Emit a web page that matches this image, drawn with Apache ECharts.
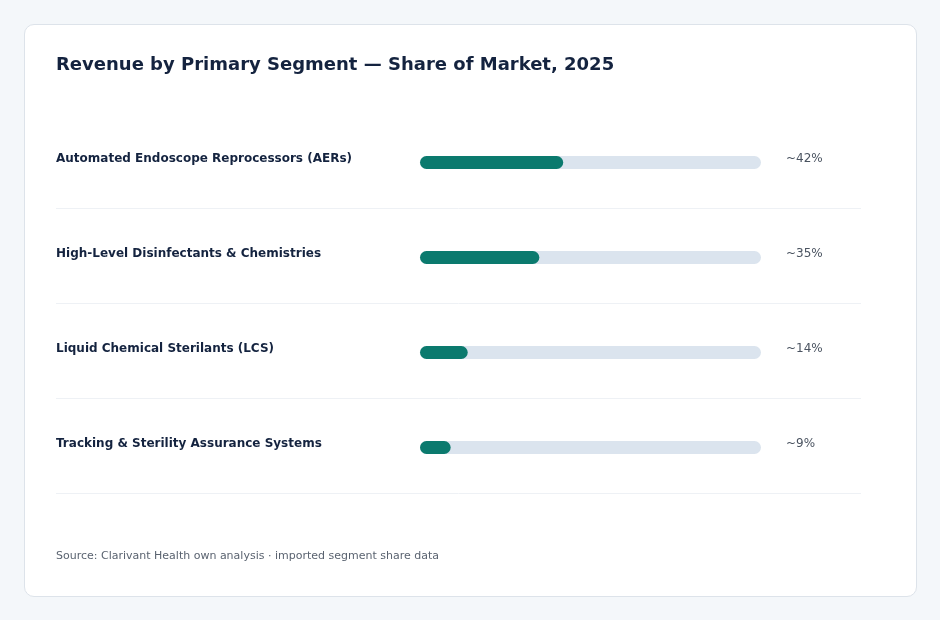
<!DOCTYPE html>
<html>
<head>
<meta charset="utf-8">
<script src="https://cdn.jsdelivr.net/npm/echarts@6/dist/echarts.min.js"></script>
<style>
  html, body { margin: 0; padding: 0; background: #f4f7fa; }
  .card {
    position: absolute; left: 24px; top: 24px; width: 891px; height: 571px;
    background: #ffffff; border: 1px solid #dde3ea; border-radius: 10px;
  }
  #chart { position: absolute; left: 0; top: 0; width: 940px; height: 620px; }
</style>
</head>
<body>
<div class="card"></div>
<div id="chart"></div>
<script>
const segments = [
  'Automated Endoscope Reprocessors (AERs)',
  'High-Level Disinfectants & Chemistries',
  'Liquid Chemical Sterilants (LCS)',
  'Tracking & Sterility Assurance Systems'
]
const shares = [42, 35, 14, 9]
const shareLabels = ['~42%', '~35%', '~14%', '~9%']
const separators = [1, 2, 3, 4]

const font = 'DejaVu Sans, sans-serif'
const chart = echarts.init(document.getElementById('chart'))

const option = {
  backgroundColor: 'transparent',
  animation: false,
  title: [
    {
      text: 'Revenue by Primary Segment — Share of Market, 2025',
      left: 51,
      top: 51,
      textStyle: { fontFamily: font, fontSize: 18, fontWeight: 'bold', color: '#14233f' }
    },
    {
      text: 'Source: Clarivant Health own analysis · imported segment share data',
      left: 51,
      top: 546,
      textStyle: { fontFamily: font, fontSize: 11, fontWeight: 'normal', color: '#5a6370' }
    }
  ],
  grid: [
    { left: 420, width: 341, top: 115, height: 380 },
    { left: 56, width: 805, top: 208, height: 285 }
  ],
  xAxis: [
    { gridIndex: 0, type: 'value', min: 0, max: 100, show: false },
    { gridIndex: 1, type: 'value', min: 0, max: 1, show: false }
  ],
  yAxis: [
    {
      gridIndex: 0,
      type: 'category',
      inverse: true,
      data: segments,
      axisLine: { show: false },
      axisTick: { show: false },
      splitLine: { show: false },
      axisLabel: {
        align: 'left',
        verticalAlign: 'bottom',
        lineHeight: 7,
        margin: 364,
        fontFamily: font,
        fontSize: 12,
        fontWeight: 'bold',
        color: '#14233f'
      }
    },
    {
      gridIndex: 0,
      type: 'category',
      inverse: true,
      position: 'right',
      data: shareLabels,
      axisLine: { show: false },
      axisTick: { show: false },
      splitLine: { show: false },
      axisLabel: {
        align: 'left',
        verticalAlign: 'bottom',
        lineHeight: 8,
        margin: 25,
        fontFamily: font,
        fontSize: 12,
        color: '#4a5360'
      }
    },
    {
      gridIndex: 1,
      type: 'value',
      inverse: true,
      min: 1,
      max: 4,
      interval: 1,
      axisLine: { show: false },
      axisTick: { show: false },
      axisLabel: { show: false },
      splitLine: { show: true, lineStyle: { color: '#eef1f5', width: 1 } }
    }
  ],
  series: [
    {
      type: 'bar',
      xAxisIndex: 0,
      yAxisIndex: 0,
      data: shares,
      barWidth: 13,
      showBackground: true,
      backgroundStyle: { color: '#dbe4ee', borderRadius: 6.5 },
      itemStyle: { color: '#0b7a6e', borderRadius: 6.5 }
    },
    {
      type: 'scatter',
      xAxisIndex: 1,
      yAxisIndex: 2,
      data: separators.map(v => [0, v]),
      symbolSize: 0,
      silent: true
    }
  ]
}

chart.setOption(option)
</script>
</body>
</html>
